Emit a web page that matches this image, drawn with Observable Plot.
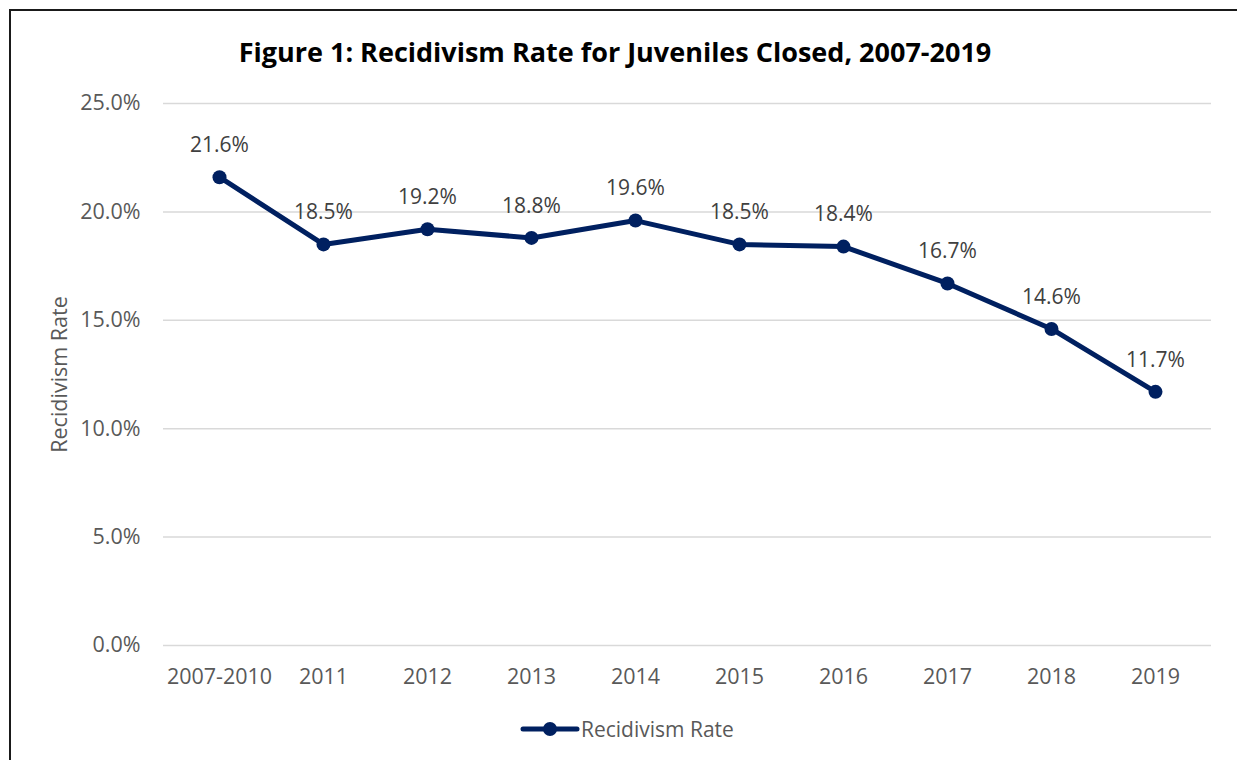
<!DOCTYPE html>
<html>
<head>
<meta charset="utf-8">
<script src="https://cdn.jsdelivr.net/npm/d3@7"></script>
<script src="https://cdn.jsdelivr.net/npm/@observablehq/plot@0.6"></script>
<style>
  html, body { margin: 0; padding: 0; background: #fff; width: 1237px; height: 760px; overflow: hidden; }
  #frame { position: absolute; left: 9px; top: 9px; width: 1300px; height: 800px; border: 2px solid #1a1a1a; box-sizing: border-box; }
  #title { position: absolute; left: 0; width: 1230px; top: 32px; text-align: center; font-family: "Open Sans", sans-serif; font-weight: bold; font-size: 27px; line-height: 40px; color: #000; }
  #chart { position: absolute; left: 0; top: 0; }
  #legend { position: absolute; left: 520px; top: 715px; display: flex; align-items: center; font-family: "Open Sans", sans-serif; font-size: 21px; color: #595959; }
  #legend svg { margin-right: 1px; }
</style>
</head>
<body>
<div id="frame"></div>
<div id="title">Figure 1: Recidivism Rate for Juveniles Closed, 2007-2019</div>
<div id="chart"></div>
<div id="legend"><svg width="60" height="24"><line x1="3" y1="12" x2="57" y2="12" stroke="#002060" stroke-width="5" stroke-linecap="round"/><circle cx="30" cy="12" r="7" fill="#002060"/></svg><span>Recidivism Rate</span></div>
<script>
const years = ["2007-2010", "2011", "2012", "2013", "2014", "2015", "2016", "2017", "2018", "2019"];
const rates = [0.216, 0.185, 0.192, 0.188, 0.196, 0.185, 0.184, 0.167, 0.146, 0.117];
const yTicks = [0, 0.05, 0.10, 0.15, 0.20, 0.25];

const data = years.map((y, i) => ({year: y, rate: rates[i]}));

const chart = Plot.plot({
  width: 1237,
  height: 700,
  marginLeft: 163,
  marginRight: 26,
  marginTop: 103,
  marginBottom: 55,
  style: {fontFamily: "'Open Sans', sans-serif", fontSize: "21px", color: "#595959", background: "transparent"},
  x: {type: "point", domain: years, padding: 0.5, label: null},
  y: {domain: [0, 0.25], ticks: yTicks, tickFormat: d3.format(".1%"), label: null},
  marks: [
    Plot.gridY(yTicks, {stroke: "#d9d9d9", strokeOpacity: 1, strokeWidth: 1.5}),
    Plot.axisX({tickSize: 0, tickPadding: 23, fontSize: 21.5, fill: "#595959"}),
    Plot.axisY({ticks: yTicks, tickSize: 0, tickPadding: 23, tickFormat: d3.format(".1%"), fontSize: 21.5, fill: "#595959", label: null}),
    Plot.text(["Recidivism Rate"], {frameAnchor: "left", textAnchor: "middle", dx: -103, rotate: -90, fontSize: 21.5, fill: "#595959"}),
    Plot.line(data, {x: "year", y: "rate", stroke: "#002060", strokeWidth: 5}),
    Plot.dot(data, {x: "year", y: "rate", r: 7, fill: "#002060"}),
    Plot.text(data, {x: "year", y: "rate", text: d => d3.format(".1%")(d.rate), dy: -32, fontSize: 21, fill: "#404040"})
  ]
});
document.getElementById("chart").appendChild(chart);
</script>
</body>
</html>
